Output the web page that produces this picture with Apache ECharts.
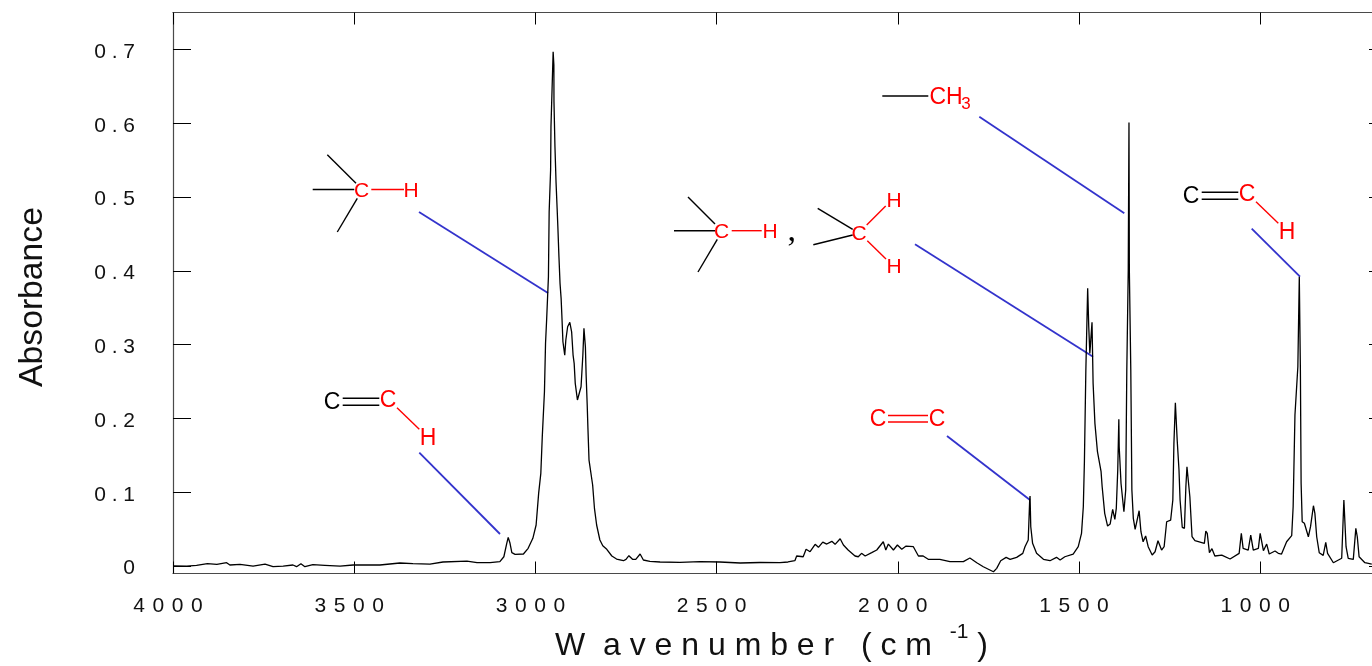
<!DOCTYPE html>
<html>
<head>
<meta charset="utf-8">
<style>html,body{margin:0;padding:0;background:#fff;overflow:hidden}#chart{width:1372px;height:666px}</style>
<script src="https://cdn.jsdelivr.net/npm/echarts@6/dist/echarts.min.js"></script>
</head>
<body>
<div id="chart"></div>
<script>
const wavenumbers = [3999,3962,3935,3905,3879,3852,3843,3815,3779,3746,3724,3696,3669,3659,3647,3636,3614,3581,3539,3503,3465,3429,3374,3338,3291,3255,3189,3161,3125,3098,3087,3079,3075,3070,3065,3056,3033,3020,3007,2998,2991,2985,2981,2975,2972,2969,2964,2962,2958,2957,2954,2951,2949,2948.7,2946,2943,2940,2938,2935,2932,2929,2927,2924,2919,2916,2911,2905,2900,2896,2893,2890,2884,2879,2874,2869,2866,2862,2860,2857,2855,2852,2842,2837,2831,2822,2814,2803,2789,2776,2757,2750,2742,2732,2723,2711,2702,2684,2656,2601,2546,2491,2435,2380,2325,2303,2284,2279,2261,2253,2242,2228,2219,2207,2196,2182,2173,2159,2150,2137,2118,2109,2100,2090,2072,2058,2054,2040,2033,2026,2012,2001,1989,1977,1957,1943,1930,1916,1884,1856,1819,1801,1782,1764,1736,1727,1716,1701,1690,1672,1655,1649,1640,1636,1635,1633,1628,1617,1598,1580,1562,1552,1539,1516,1502,1493,1488,1485,1481,1476,1473,1470,1464,1461,1456,1449,1439,1436,1429,1421,1414,1407,1401,1397,1393,1390,1389,1384,1376,1371,1368,1364,1362,1361,1357,1354,1350,1345,1334,1329,1323,1316,1309,1298,1290,1282,1272,1265,1258,1247,1241,1238,1234,1229,1224,1221,1215,1209,1205,1202,1198,1194,1188,1180,1154,1150,1146,1140,1133,1125,1106,1083,1058,1052,1047,1033,1026,1019,1005,1000,991,982,975,959,950,941,927,913,909,904,899,896,892,889,887,884,878,867,861,853,849,844,837,826,819,814,798,775,769,766,763,757,743,736,732,727,711,692];
const absorbance = [.0002,.0001,.0011,.0033,.0024,.0046,.0015,.0024,.0001,.0028,-.0008,.0001,.0015,-.0008,.0033,-.0008,.0019,.0011,.0001,.0015,.0015,.0015,.0042,.0033,.0028,.0056,.0069,.0046,.0046,.006,.0127,.0309,.039,.0309,.0182,.016,.0164,.0241,.0377,.0557,.0986,.1257,.1753,.2362,.3018,.3333,.392,.48,.5365,.5952,.6458,.6967,.6787,.629,.568,.5199,.4846,.4597,.4191,.3831,.3627,.3401,.304,.2859,.3063,.3243,.3302,.3175,.2859,.2747,.2476,.225,.2227,.243,.2859,.3221,.2972,.2588,.2182,.1866,.1437,.1099,.0783,.0557,.0354,.0276,.0228,.0137,.0096,.0073,.0092,.0141,.0092,.0092,.0164,.0083,.0065,.0056,.0051,.0062,.0056,.0042,.0049,.0046,.0056,.0073,.0137,.0127,.0228,.0195,.0295,.0255,.0326,.0299,.0336,.0295,.0371,.0286,.0218,.0137,.0127,.0173,.0137,.0182,.0218,.0195,.033,.0218,.0299,.0218,.0286,.0228,.0272,.0263,.0137,.0137,.0092,.0092,.006,.006,.011,.0046,-.0008,-.0076,-.003,.0073,.0119,.0092,.0119,.0173,.0263,.0354,.0895,.095,.0534,.0309,.0173,.0092,.0073,.0119,.0083,.0127,.0164,.0263,.0444,.0805,.1414,.2656,.3763,.3243,.2882,.3302,.2476,.1934,.155,.1279,.1075,.0715,.0543,.057,.0769,.0634,.0783,.1302,.1988,.1617,.1122,.0737,.1031,.2656,.4011,.6011,.4011,.2656,.1031,.0647,.0498,.075,.0466,.033,.0408,.0263,.015,.0195,.0344,.0218,.0263,.0601,.0624,.0895,.1663,.2213,.1708,.1302,.0895,.0526,.0512,.1075,.1346,.1346,.094,.0398,.0344,.0309,.0475,.0444,.0182,.0236,.0137,.015,.0096,.0173,.0444,.0241,.0218,.0421,.0218,.0241,.0444,.0209,.0299,.0164,.0205,.0173,.0164,.033,.0412,.0805,.2047,.207,.2701,.392,.2656,.1122,.0601,.058,.0398,.0534,.0818,.0715,.0398,.0182,.0146,.0322,.0173,.0046,.0106,.0895,.0886,.0263,.0106,.0092,.0512,.0398,.0127,.0046,.0028];
const xTickValues = [4000,3500,3000,2500,2000,1500,1000];
const xTickLabels = ['4 \u200A0 \u200A0 \u200A0','3 \u200A5 \u200A0 \u200A0','3 \u200A0 \u200A0 \u200A0','2 \u200A5 \u200A0 \u200A0','2 \u200A0 \u200A0 \u200A0','1 \u200A5 \u200A0 \u200A0','1 \u200A0 \u200A0 \u200A0'];
const yTickValues = [0,0.1,0.2,0.3,0.4,0.5,0.6,0.7];
const yTickLabels = ['0','0 . 1','0 . 2','0 . 3','0 . 4','0 . 5','0 . 6','0 . 7'];

const BLUE = '#3333cc', RED = '#ff0000', BLACK = '#000000';
const blueLeaders = [[419,212,548,293],[419.3,452.7,500,534],[915,244.3,1093,356.7],[947,436,1030,500],[979.3,116.7,1124.3,213.3],[1251.7,228.7,1300,276.7]];
const blackBonds = [[327.3,154.7,356,183.3],[312.7,189.5,354.3,189.5],[337.3,232,357.3,198.3],[688,197,715,224],[674,230.7,715,230.7],[698,272,717.3,239.3],[817.7,208.3,852.7,229.3],[813.3,244.7,852.7,235],[882.3,96,928.3,96],[1201.7,192.3,1238.3,192.3],[1201.7,199.3,1238.3,199.3],[342.7,398.3,379.3,398.3],[342.7,405.3,379.3,405.3]];
const redBonds = [[371.3,189.5,404,189.5],[731.7,230.7,761.7,230.7],[866.7,225,885.7,206],[867.3,240.7,886,259],[1256,201.7,1278.3,223.3],[397,407.7,419.3,429.3],[888,415.5,928,415.5],[888,422,928,422]];
const atomLabels = [['C',361.7,191,RED,21],['H',411,191,RED,21],['C',721.7,232.7,RED,21],['H',770,232.7,RED,21],['C',859,234.3,RED,21],['H',894,201,RED,21],['H',894,267.7,RED,21],['C',1191,197,BLACK,23],['C',1247,194.5,RED,23],['H',1287,233,RED,23],['C',332,403,BLACK,23],['C',388,400.5,RED,23],['H',428,439,RED,23],['C',878,419.5,RED,23],['C',937,419.5,RED,23],['CH',946,97.3,RED,23],['3',966,104,RED,17]];

const seg = (a, color, w) => a.map(p => ({type:'line',silent:true,shape:{x1:p[0],y1:p[1],x2:p[2],y2:p[3]},style:{stroke:color,lineWidth:w}}));
const graphicEls = [
  ...seg(blueLeaders, BLUE, 1.8),
  ...seg(blackBonds, BLACK, 1.4),
  ...seg(redBonds, RED, 1.4),
  ...atomLabels.map(t => ({type:'text',silent:true,style:{text:t[0],x:t[1],y:t[2],fill:t[3],font:t[4]+'px "Liberation Sans"',align:'center',verticalAlign:'middle'}})),
  {type:'text',silent:true,style:{text:',',x:791.7,y:215,fill:'#000',font:'34px "Liberation Serif"',align:'center',verticalAlign:'top'}}
];

const frame = {show:true,onZero:false,lineStyle:{color:'#4a4a4a',width:1.2}};
const xBase = {type:'value',inverse:true,min:650,max:4000,splitLine:{show:false},axisLine:frame};
const yBase = {type:'value',min:-0.01,max:0.75,splitLine:{show:false},axisLine:frame};
const chart = echarts.init(document.getElementById('chart'));
chart.setOption({
  animation:false,
  backgroundColor:'#fff',
  grid:{left:173,top:12.5,width:1214,height:561,containLabel:false,outerBoundsMode:'none'},
  xAxis:[
    {...xBase,position:'bottom',
     axisTick:{show:true,inside:true,length:12,customValues:xTickValues,lineStyle:{color:'#000',width:1}},
     axisLabel:{show:true,margin:22,padding:[0,10,0,0],customValues:xTickValues,formatter:(v,i)=>xTickLabels[xTickValues.indexOf(v)],fontFamily:'Liberation Sans',fontSize:21,color:'#111',hideOverlap:false,showMinLabel:true,showMaxLabel:true},
     name:'{t|W  a v e n u m b e r   ( c m  }{s|-1}{t| )}',nameLocation:'middle',nameGap:47,
     nameTextStyle:{padding:[0,17,0,0],rich:{t:{fontFamily:'Liberation Sans',fontSize:32,color:'#111'},s:{fontFamily:'Liberation Sans',fontSize:21,color:'#111',padding:[0,0,28,0]}}}},
    {...xBase,position:'top',axisLabel:{show:false},
     axisTick:{show:true,inside:true,length:12,customValues:xTickValues,lineStyle:{color:'#000',width:1}}}
  ],
  yAxis:[
    {...yBase,position:'left',
     axisTick:{show:true,inside:true,length:18,customValues:yTickValues,lineStyle:{color:'#000',width:1}},
     axisLabel:{show:true,margin:38,customValues:yTickValues,formatter:(v,i)=>'{v|'+yTickLabels[yTickValues.indexOf(v)]+'}',hideOverlap:false,
       rich:{v:{fontFamily:'Liberation Sans',fontSize:21,color:'#111',padding:[5,0,0,0]}}},
     name:'Absorbance',nameLocation:'middle',nameGap:123,nameRotate:90,
     nameTextStyle:{fontFamily:'Liberation Sans',fontSize:33.7,color:'#111',padding:[0,8,0,0]}},
    {...yBase,position:'right',axisLabel:{show:false},
     axisTick:{show:true,inside:true,length:18,customValues:yTickValues,lineStyle:{color:'#000',width:1}}}
  ],
  series:[{type:'line',xAxisIndex:0,yAxisIndex:0,showSymbol:false,symbol:'none',smooth:false,sampling:'none',
    data:wavenumbers.map((w,i)=>[w,absorbance[i]]),lineStyle:{color:'#000',width:1.3},clip:true}],
  graphic:{elements:graphicEls}
});
</script>
</body>
</html>
